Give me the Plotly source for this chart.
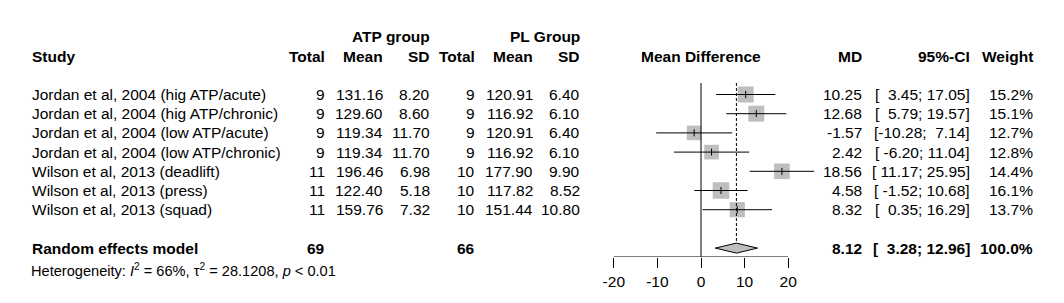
import plotly.graph_objects as go

W, H = 1064, 303

studies = [
    "Jordan et al, 2004 (hig ATP/acute)",
    "Jordan et al, 2004 (hig ATP/chronic)",
    "Jordan et al, 2004 (low ATP/acute)",
    "Jordan et al, 2004 (low ATP/chronic)",
    "Wilson et al, 2013 (deadlift)",
    "Wilson et al, 2013 (press)",
    "Wilson et al, 2013 (squad)",
]
atp_total = [9, 9, 9, 9, 11, 11, 11]
atp_mean = ["131.16", "129.60", "119.34", "119.34", "196.46", "122.40", "159.76"]
atp_sd = ["8.20", "8.60", "11.70", "11.70", "6.98", "5.18", "7.32"]
pl_total = [9, 9, 9, 9, 10, 10, 10]
pl_mean = ["120.91", "116.92", "120.91", "116.92", "177.90", "117.82", "151.44"]
pl_sd = ["6.40", "6.10", "6.40", "6.10", "9.90", "8.52", "10.80"]
md = [10.25, 12.68, -1.57, 2.42, 18.56, 4.58, 8.32]
ci_low = [3.45, 5.79, -10.28, -6.20, 11.17, -1.52, 0.35]
ci_high = [17.05, 19.57, 7.14, 11.04, 25.95, 10.68, 16.29]
weight = [15.2, 15.1, 12.7, 12.8, 14.4, 16.1, 13.7]

re_md, re_low, re_high = 8.12, 3.28, 12.96
re_total_atp, re_total_pl = 69, 66
het_text = "Heterogeneity: <i>I</i><sup>2</sup> = 66%, τ<sup>2</sup> = 28.1208, <i>p</i> &lt; 0.01"
tick_vals = [-20, -10, 0, 10, 20]

FONT = "Liberation Sans, Arial, sans-serif"
FS = 15.5
FS_HET = 14.6

# row layout (pixel rows)
ROW0, STEP = 94.5, 19.2
def row_y(k):
    return ROW0 + STEP * k

def fmt_ci(lo, hi):
    return "[" + f"{lo:.2f}".rjust(6) + "; " + f"{hi:.2f}".rjust(5) + "]"

fig = go.Figure()

ys = [row_y(i) for i in range(len(studies))]

# squares (area proportional to weight)
sizes = [16 * (w / 15.2) ** 0.5 for w in weight]
fig.add_trace(go.Scatter(x=md, y=ys, mode="markers",
                         marker=dict(symbol="square", size=sizes, color="#BEBEBE", opacity=1,
                                     line=dict(width=0)),
                         hoverinfo="skip", cliponaxis=False))
# CI lines
cx, cy = [], []
for lo, hi, y in zip(ci_low, ci_high, ys):
    cx += [lo, hi, None]
    cy += [y, y, None]
fig.add_trace(go.Scatter(x=cx, y=cy, mode="lines", line=dict(color="black", width=1), hoverinfo="skip"))
# point estimate ticks
fig.add_trace(go.Scatter(x=md, y=ys, mode="markers",
                         marker=dict(symbol="line-ns", size=5, opacity=1, line=dict(color="black", width=1)),
                         hoverinfo="skip", cliponaxis=False))
# diamond
yd = row_y(8)
fig.add_trace(go.Scatter(x=[re_low, re_md, re_high, re_md, re_low],
                         y=[yd, yd - 5, yd, yd + 5, yd],
                         mode="lines", fill="toself", fillcolor="#BEBEBE",
                         line=dict(color="black", width=1), hoverinfo="skip"))

AX_Y = 257
TOP_Y = 83
shapes = [
    dict(type="line", xref="x", yref="y", x0=0, x1=0, y0=TOP_Y, y1=AX_Y, line=dict(color="black", width=1)),
    dict(type="line", xref="x", yref="y", x0=re_md, x1=re_md, y0=TOP_Y, y1=yd - 5,
         line=dict(color="black", width=1, dash="3px,2px")),
    dict(type="line", xref="x", yref="y", x0=tick_vals[0], x1=tick_vals[-1], y0=AX_Y, y1=AX_Y,
         line=dict(color="black", width=1)),
]

ann = []
def txt(s, px, py, anchor="right", size=FS, bold=False):
    if bold:
        s = "<b>" + s + "</b>"
    ann.append(dict(text=s, x=px / W, y=1 - py / H, xref="paper", yref="paper",
                    xanchor=anchor, yanchor="middle", showarrow=False,
                    borderpad=0, borderwidth=0,
                    font=dict(family=FONT, size=size, color="black")))

# column right edges
C_STUDY = 32
C_AT, C_AM, C_AS = 324.5, 382.5, 429.5
C_PT, C_PM, C_PS = 474.5, 532.5, 579.5
C_MD, C_CI, C_W = 862, 969.5, 1032.5
C_FOREST = 701

# headers
txt("ATP group", C_AS, row_y(-3), bold=True)
txt("PL Group", C_PS, row_y(-3), bold=True)
hy = row_y(-2)
txt("Study", C_STUDY, hy, anchor="left", bold=True)
for lab, c in [("Total", C_AT), ("Mean", C_AM), ("SD", C_AS), ("Total", C_PT), ("Mean", C_PM), ("SD", C_PS),
               ("MD", C_MD), ("95%-CI", C_CI), ("Weight", C_W)]:
    txt(lab, c, hy, bold=True)
txt("Mean Difference", C_FOREST, hy, anchor="center", bold=True)

for i, y in enumerate(ys):
    txt(studies[i], C_STUDY, y, anchor="left")
    txt(str(atp_total[i]), C_AT, y)
    txt(atp_mean[i], C_AM, y)
    txt(atp_sd[i], C_AS, y)
    txt(str(pl_total[i]), C_PT, y)
    txt(pl_mean[i], C_PM, y)
    txt(pl_sd[i], C_PS, y)
    txt(f"{md[i]:.2f}", C_MD, y)
    txt(fmt_ci(ci_low[i], ci_high[i]), C_CI, y)
    txt(f"{weight[i]:.1f}%", C_W, y)

txt("Random effects model", C_STUDY, yd, anchor="left", bold=True)
txt(str(re_total_atp), C_AT, yd, bold=True)
txt(str(re_total_pl), C_PT, yd, bold=True)
txt(f"{re_md:.2f}", C_MD, yd, bold=True)
txt(fmt_ci(re_low, re_high), C_CI, yd, bold=True)
txt("100.0%", C_W, yd, bold=True)
txt(het_text, C_STUDY - 1, 269.5, anchor="left", size=FS_HET)

PPU = 4.36
x0px = C_FOREST - 30 * PPU
x1px = C_FOREST + 30 * PPU

fig.update_layout(
    width=W, height=H, margin=dict(l=0, r=0, t=0, b=0),
    paper_bgcolor="white", plot_bgcolor="white", showlegend=False,
    shapes=shapes, annotations=ann,
    xaxis=dict(domain=[x0px / W, x1px / W], range=[-30, 30], showgrid=False, zeroline=False,
               showline=False, ticks="outside", ticklen=10, tickwidth=1, tickcolor="black",
               tickmode="array", tickvals=tick_vals, ticktext=[str(v) for v in tick_vals],
               tickfont=dict(family=FONT, size=FS, color="black"), ticklabelstandoff=0,
               fixedrange=True),
    yaxis=dict(domain=[(H - AX_Y) / H, 1], range=[AX_Y, 0], visible=False, fixedrange=True),
)

fig.write_html("out.html")
